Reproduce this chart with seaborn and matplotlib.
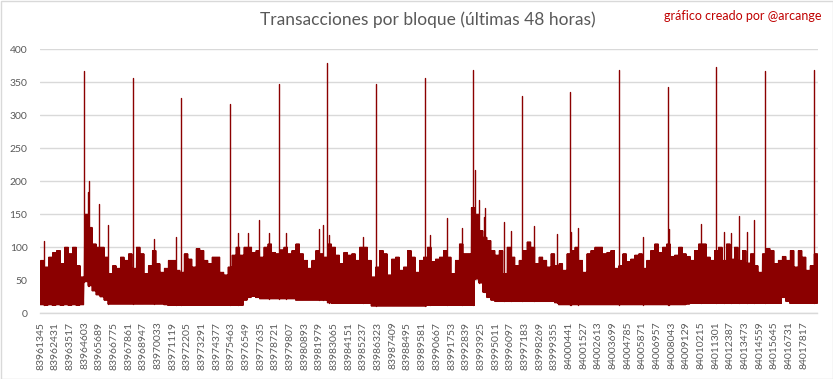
import numpy as np
import pandas as pd
import matplotlib
matplotlib.use("Agg")
import matplotlib.pyplot as plt
from matplotlib.patches import Rectangle
import seaborn as sns

# ---------------- data ----------------
first_block = 83961345
last_block = 84018830

# typical upper envelope of transactions per block, 195 consecutive bins
band_top = [
    80, 70, 85, 92, 95, 75, 100, 90, 100, 72, 55, 150, 130, 105, 100, 100, 85, 60, 72, 68,
    85, 80, 90, 68, 100, 90, 60, 72, 95, 75, 62, 68, 80,
    80, 65, 62, 90, 82, 70, 98, 95, 80, 75, 85, 85, 62, 58, 70, 88, 100, 88, 100, 100,
    92, 95, 85, 100, 105, 92, 90, 96, 100, 90, 95, 105,
    90, 80, 68, 80, 95, 90, 85, 105, 100, 88, 75, 92, 88, 90, 80, 100, 100, 80, 55, 70,
    95, 90, 58, 82, 85, 65, 70, 95, 85, 62, 80, 85,
    100, 78, 82, 85, 95, 85, 60, 80, 105, 90, 90, 160, 150, 125, 115, 110, 95, 88, 95, 60,
    100, 85, 72, 80, 95, 108, 100, 75, 85, 80, 70, 90, 72,
    75, 65, 90, 95, 100, 80, 62, 90, 95, 100, 100, 90, 92, 95, 68, 72, 90, 78, 82, 88,
    90, 68, 80, 95, 105, 92, 100, 105, 86, 88, 100, 90, 86,
    80, 95, 105, 105, 85, 80, 95, 100, 80, 105, 82, 100, 80, 95, 76, 90, 72, 62, 90, 98,
    95, 75, 80, 86, 80, 95, 70, 95, 85, 65, 72, 90,
]

# lower envelope for the same bins
band_low = [
    13, 12, 13, 12, 13, 12, 13, 12, 13, 12, 13, 48, 42, 34, 28, 25, 20, 14, 14, 14,
    14, 14, 14, 14, 14, 14, 14, 14, 14, 14, 14, 13, 12,
    12, 12, 12, 12, 12, 12, 12, 12, 12, 12, 12, 12, 12, 12, 12, 12, 12, 12, 20, 24,
    26, 24, 22, 22, 22, 22, 22, 22, 22, 22, 22, 20,
    20, 20, 20, 20, 20, 20, 20, 16, 15, 15, 15, 15, 15, 15, 15, 15, 15, 15, 11, 11,
    11, 11, 11, 11, 11, 11, 11, 11, 11, 11, 11, 11,
    12, 12, 12, 12, 12, 12, 12, 12, 12, 12, 12, 12, 52, 46, 32, 24, 20, 18, 18, 18,
    18, 18, 18, 18, 18, 18, 18, 18, 18, 18, 18, 18, 16,
    13, 13, 13, 13, 13, 13, 13, 13, 13, 13, 13, 13, 13, 13, 13, 13, 13, 13, 13, 13,
    13, 13, 13, 13, 13, 13, 13, 13, 13, 13, 13, 13, 14,
    15, 15, 15, 15, 15, 15, 15, 15, 15, 15, 15, 15, 15, 15, 15, 15, 15, 15, 15, 15,
    15, 15, 15, 24, 18, 15, 15, 15, 15, 15, 15, 15,
]

# isolated peaks (block number, transactions)
spike_blocks = [
    83964597, 83968220, 83971768, 83975390, 83979012, 83982560, 83986160, 83989804,
    83993352, 83996974, 84000523, 84004145, 84007767, 84011315, 84014915, 84018559,
    83961567, 83964893, 83964967, 83965706, 83966372, 83969772, 83971398, 83975981,
    83976720, 83977533, 83978273, 83979529, 83981969, 83982264, 83982708, 83985221,
    83990174, 83991430, 83992539, 83993500, 83993796, 83994165, 83994239, 83995644,
    83996161, 83997861, 83999562, 84000597, 84001114, 84005919, 84007841, 84010206,
    84011906, 84012424, 84013015, 84013606, 84014124,
]
spike_values = [
    367, 356, 326, 317, 348, 379, 347, 356,
    369, 329, 335, 369, 343, 373, 367, 368,
    109, 184, 200, 166, 134, 112, 116, 121,
    121, 142, 122, 122, 127, 134, 119, 115,
    119, 145, 130, 217, 172, 146, 159, 139,
    124, 132, 120, 123, 130, 115, 127, 136,
    123, 122, 147, 123, 141,
]

x_tick_labels = [
    "83961345", "83962431", "83963517", "83964603", "83965689", "83966775", "83967861",
    "83968947", "83970033", "83971119", "83972205", "83973291", "83974377", "83975463",
    "83976549", "83977635", "83978721", "83979807", "83980893", "83981979", "83983065",
    "83984151", "83985237", "83986323", "83987409", "83988495", "83989581", "83990667",
    "83991753", "83992839", "83993925", "83995011", "83996097", "83997183", "83998269",
    "83999355", "84000441", "84001527", "84002613", "84003699", "84004785", "84005871",
    "84006957", "84008043", "84009129", "84010215", "84011301", "84012387", "84013473",
    "84014559", "84015645", "84016731", "84017817",
]
y_ticks = [0, 50, 100, 150, 200, 250, 300, 350, 400]

title = "Transacciones por bloque (últimas 48 horas)"
credit = "gráfico creado por @arcange"

# ---------------- build long table ----------------
n = len(band_top)
tops = np.array(band_top, dtype=float)
lows = np.array(band_low, dtype=float)
M = n * 8
xs = np.linspace(first_block, last_block, M)
idx = np.minimum(((xs - first_block) / (last_block - first_block) * n).astype(int), n - 1)
ys = np.where(np.arange(M) % 2 == 0, lows[idx], tops[idx])
frames = [pd.DataFrame({"block": xs, "tx": ys, "unit": 0})]
for k, (b, v) in enumerate(zip(spike_blocks, spike_values), start=1):
    bi = min(int((b - first_block) / (last_block - first_block) * n), n - 1)
    frames.append(pd.DataFrame({"block": [b, b], "tx": [lows[bi], v], "unit": k}))
df = pd.concat(frames, ignore_index=True)

# ---------------- plot ----------------
sns.set_theme(style="white")
plt.rcParams["font.family"] = ["Lato", "DejaVu Sans"]

fig = plt.figure(figsize=(8.33, 3.79), dpi=100)
ax = fig.add_axes([40 / 833, 1 - 313.3 / 379, 777.5 / 833, 264 / 379])

red = "#8b0000"
sns.lineplot(data=df, x="block", y="tx", units="unit", estimator=None, sort=False,
             color=red, linewidth=1.0, ax=ax, legend=False)

ax.set_xlim(first_block - 40, last_block)
ax.set_ylim(0, 400)
ax.set_yticks(y_ticks)
ax.set_yticklabels([str(v) for v in y_ticks])
ax.set_xticks([int(s) for s in x_tick_labels])
ax.set_xticklabels(x_tick_labels, rotation=90, va="top", ha="center")
ax.tick_params(axis="x", length=0, pad=6, labelsize=7.5, colors="#595959")
ax.tick_params(axis="y", length=0, pad=9, labelsize=7.5, colors="#595959")
ax.set_xlabel("")
ax.set_ylabel("")
ax.grid(axis="y", color="#d9d9d9", linewidth=1.0)
ax.grid(axis="x", visible=False)
ax.set_axisbelow(True)
for s in ["left", "right", "top"]:
    ax.spines[s].set_visible(False)
ax.spines["bottom"].set_color("#d9d9d9")
ax.spines["bottom"].set_linewidth(1.0)

fig.text(428 / 833, 1 - 20 / 379, title, ha="center", va="center",
         fontsize=12.5, color="#595959")
fig.text(822 / 833, 1 - 16 / 379, credit, ha="right", va="center",
         fontsize=9, color="#c00000")

fig.patches.append(Rectangle((0.5 / 833, 0.5 / 379), 1 - 1 / 833, 1 - 1 / 379,
                             transform=fig.transFigure, fill=False,
                             edgecolor="#d9d9d9", linewidth=1.0))

fig.savefig("out.png", dpi=100)
